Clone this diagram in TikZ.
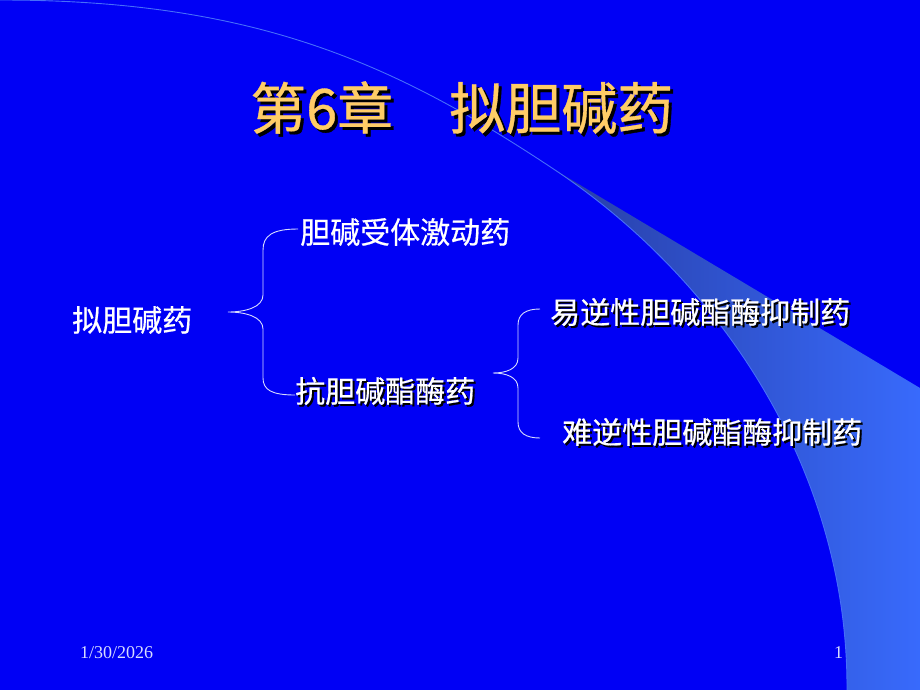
\documentclass[tikz,border=0pt]{standalone}
\usepackage{fontspec}
\setmainfont{Liberation Serif}
\newfontfamily\cjk[UprightFeatures={FakeBold=0.6}]{Noto Sans CJK SC}
\usepackage{tikz}
\definecolor{slide}{RGB}{0,0,245}
\definecolor{swoosh}{RGB}{70,110,250}
\definecolor{titlegold}{RGB}{255,204,102}
\definecolor{bracecol}{RGB}{215,220,255}
\newcommand{\shadowtxt}[2][2pt]{\rlap{\kern#1\raisebox{-#1}{\color{black}#2}}#2}

\begin{document}
\begin{tikzpicture}[x=1pt,y=-1pt,
    label/.style={anchor=west,inner sep=0pt,text=white,font=\cjk\fontsize{30}{30}\selectfont},
    brace/.style={bracecol,line width=0.9pt}]
    \fill[slide] (0,0) rectangle (920,690);
    \useasboundingbox (0,0) rectangle (920,690);
    \shade[left color={rgb,255:red,40;green,62;blue,165},right color={rgb,255:red,56;green,106;blue,252}]
      (555,170) -- (920,388) -- (920,690) -- (847,690) .. controls (848,470) and (720,280) .. (555,170) -- cycle;
    \draw[swoosh,line width=0.9pt] (0,0) .. controls (250,0) and (390,60) .. (555,170)
      .. controls (720,280) and (848,470) .. (847,690);
    \node[anchor=west,inner sep=0pt,text=titlegold,font=\cjk\fontsize{56}{56}\selectfont] (title) at (250,109) {\shadowtxt[3pt]{第6章\hspace{1em}拟胆碱药}};
    \node[label] (drug) at (72,320) {拟胆碱药};
    \node[label] (agonist) at (300,232) {胆碱受体激动药};
    \node[label] (anti) at (295,392) {\shadowtxt{抗胆碱酯酶药}};
    \node[label] (rev) at (550,313) {\shadowtxt{易逆性胆碱酯酶抑制药}};
    \node[label] (irrev) at (562,433) {\shadowtxt{难逆性胆碱酯酶抑制药}};
    \coordinate (tip1) at (228,312);
    \coordinate (tip2) at (493,373);
    \draw[brace] ([xshift=-2pt,yshift=3pt]agonist.west) .. controls (272,229) and (263,236) .. (263,250) -- (263,295)
      .. controls (263,307) and (246,312) .. (tip1) .. controls (246,312) and (263,317) .. (263,329) -- (263,378)
      .. controls (263,390) and (272,395) .. ([yshift=-3pt]anti.west);
    \draw[brace] ([xshift=-10pt,yshift=4pt]rev.west) .. controls (526,309) and (518,314) .. (518,325) -- (518,358)
      .. controls (518,369) and (506,373) .. (tip2) .. controls (506,373) and (518,377) .. (518,388) -- (518,422)
      .. controls (518,433) and (526,438) .. ([xshift=-22pt,yshift=-5pt]irrev.west);
    \node[anchor=west,inner sep=0pt,text=bracecol,font=\fontsize{18}{18}\selectfont] (date) at (80,653) {1/30/2026};
    \node[anchor=west,inner sep=0pt,text=bracecol,font=\fontsize{18}{18}\selectfont] (page) at (834,653) {1};
  \end{tikzpicture}
\end{document}
